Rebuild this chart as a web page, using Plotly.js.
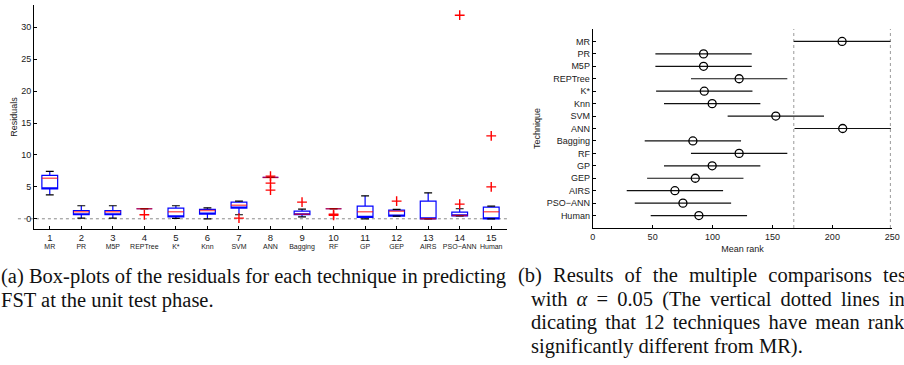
<!DOCTYPE html>
<html>
<head>
<meta charset="utf-8">
<script src="https://cdn.plot.ly/plotly-3.0.1.min.js"></script>
<style>
  html, body { margin: 0; padding: 0; background: #fff; overflow: hidden; }
  #chart { width: 904px; height: 365px; }
</style>
</head>
<body>
<div id="chart"></div>
<script>
// Techniques compared in both panels
const techniques = ['MR', 'PR', 'M5P', 'REPTree', 'K*', 'Knn', 'SVM', 'ANN', 'Bagging', 'RF', 'GP', 'GEP', 'AIRS', 'PSO\u2212ANN', 'Human'];
const techIndex = [1, 2, 3, 4, 5, 6, 7, 8, 9, 10, 11, 12, 13, 14, 15];

// (a) residual box statistics per technique
const whiskerLow  = [3.76, 0.10, 0.10, 1.57, 0.05, 0.00, 0.63, 6.48, 0.31, 1.57, 0.00, 0.42, 0.00, 0.47, 0.00];
const q1          = [4.70, 0.63, 0.63, 1.57, 0.31, 0.73, 1.67, 6.48, 0.63, 1.57, 0.21, 0.42, 0.00, 0.47, 0.00];
const median      = [6.37, 1.10, 1.10, 1.57, 1.10, 1.30, 2.14, 6.48, 0.73, 1.57, 1.10, 1.20, 0.00, 0.52, 1.10];
const q3          = [6.80, 1.30, 1.30, 1.57, 1.67, 1.46, 2.61, 6.48, 1.20, 1.57, 1.98, 1.36, 2.77, 1.04, 1.83];
const whiskerHigh = [7.42, 2.04, 2.04, 1.57, 2.04, 1.72, 2.77, 6.48, 1.52, 1.57, 3.60, 1.46, 4.07, 1.57, 1.98];

// (a) outliers: technique number and residual value
const outlierTech  = [4, 7, 8, 8, 8, 9, 10, 10, 12, 14, 14, 15, 15];
const outlierValue = [0.63, 0.10, 6.69, 5.59, 4.49, 2.61, 0.55, 0.70, 2.77, 2.30, 31.9, 13.0, 5.0];

// (b) multiple comparisons: mean rank and confidence half-width
const meanRank    = [208.1, 92.5, 92.5, 122.2, 93.1, 99.7, 152.8, 208.6, 83.6, 122.2, 99.7, 85.6, 68.6, 75.3, 88.6];
const ciHalfWidth = [40.3, 40.2, 40.2, 40.2, 40.2, 40.2, 40.2, 40.2, 40.2, 40.2, 40.2, 40.2, 40.2, 40.2, 40.2];

const sans = 'Liberation Sans, Arial, Helvetica, sans-serif';
const serif = 'Liberation Serif, Times New Roman, serif';
const ink = '#1a1a1a';

// A degenerate box (all stats equal) draws as a flat segment; used for caps and medians
function flatBox(values, width, color, lw) {
  return {
    type: 'box', x: techIndex, xaxis: 'x', yaxis: 'y',
    q1: values, median: values, q3: values, lowerfence: values, upperfence: values,
    width: width, whiskerwidth: 0, boxpoints: false,
    line: { color: color, width: lw }, fillcolor: 'rgba(0,0,0,0)',
    hoverinfo: 'skip', showlegend: false
  };
}

const traces = [
  {
    type: 'box', x: techIndex, xaxis: 'x', yaxis: 'y',
    q1: q1, median: q1, q3: q3, lowerfence: whiskerLow, upperfence: whiskerHigh,
    width: 0.5, whiskerwidth: 0, boxpoints: false,
    line: { color: '#0000ff', width: 1.2 }, fillcolor: 'rgba(0,0,0,0)',
    hoverinfo: 'skip', showlegend: false
  },
  flatBox(whiskerHigh, 0.25, '#000000', 1.2),
  flatBox(whiskerLow, 0.25, '#000000', 1.2),
  flatBox(median, 0.5, 'rgba(255,0,0,0.62)', 1.5),
  // outliers live on the overlaid axis that carries the technique names (same domain and range)
  {
    type: 'scatter', mode: 'markers', x: outlierTech, y: outlierValue, xaxis: 'x3', yaxis: 'y',
    marker: { symbol: 'cross-thin-open', size: 7, color: '#ff0000', line: { width: 1.4, color: '#ff1010' } },
    cliponaxis: false, hoverinfo: 'skip', showlegend: false
  },
  {
    type: 'scatter', mode: 'markers', x: meanRank, y: techniques, xaxis: 'x2', yaxis: 'y2',
    marker: { symbol: 'circle-open', size: 8, color: '#000', line: { width: 1.3, color: '#000' } },
    error_x: { type: 'data', array: ciHalfWidth, symmetric: true, width: 0, thickness: 1.2, color: '#111' },
    hoverinfo: 'skip', showlegend: false
  }
];

const W = 904, H = 365;
const px = v => v / W;
const py = v => 1 - v / H;

const mrLow = meanRank[0] - ciHalfWidth[0];
const mrHigh = meanRank[0] + ciHalfWidth[0];
const rankRange = [15, -1];
const boxDomain = [px(34), px(507)];
const boxRange = [0.5, 15.5];

function caption(text, x, yCenter) {
  return {
    xref: 'paper', yref: 'paper', x: px(x), y: py(yCenter),
    xanchor: 'left', yanchor: 'middle', showarrow: false, borderpad: 0,
    align: 'left', text: text, font: { family: serif, size: 20.5, color: '#111' }
  };
}

const layout = {
  width: W, height: H,
  margin: { l: 0, r: 0, t: 0, b: 0 },
  paper_bgcolor: '#fff', plot_bgcolor: 'rgba(0,0,0,0)',
  boxmode: 'overlay',
  showlegend: false,
  font: { family: sans, color: ink, size: 9 },
  xaxis: {
    domain: boxDomain, range: boxRange,
    tickmode: 'array', tickvals: techIndex, ticktext: techIndex.map(String),
    tickfont: { size: 9.5, family: sans, color: ink },
    ticks: 'inside', ticklen: 3, tickcolor: '#000',
    showline: true, linecolor: '#000', linewidth: 1, showgrid: false, zeroline: false,
    anchor: 'y'
  },
  // technique names printed under the tick numbers
  xaxis3: {
    domain: boxDomain, range: boxRange, overlaying: 'x', anchor: 'y', side: 'bottom',
    tickmode: 'array', tickvals: techIndex, ticktext: techniques,
    tickfont: { size: 7, family: sans, color: ink },
    ticks: '', showline: false, showgrid: false, zeroline: false,
    ticklabelstandoff: 12
  },
  yaxis: {
    domain: [py(229), py(5)], range: [-1.6, 33.5],
    tickvals: [0, 5, 10, 15, 20, 25, 30],
    tickfont: { size: 9, family: sans, color: ink },
    ticks: 'inside', ticklen: 3, tickcolor: '#000',
    showline: true, linecolor: '#000', linewidth: 1, showgrid: false, zeroline: false,
    title: { text: 'Residuals', font: { size: 9, family: sans, color: ink }, standoff: 2 },
    anchor: 'x'
  },
  xaxis2: {
    domain: [px(592.7), px(892.3)], range: [0, 250],
    tickvals: [0, 50, 100, 150, 200, 250],
    tickfont: { size: 9, family: sans, color: ink },
    ticks: 'inside', ticklen: 3, tickcolor: '#000',
    showline: true, linecolor: '#000', linewidth: 1, showgrid: false, zeroline: false,
    title: { text: 'Mean rank', font: { size: 9, family: sans, color: ink }, standoff: 4 },
    anchor: 'y2'
  },
  yaxis2: {
    domain: [py(228), py(29)], type: 'category', range: rankRange,
    categoryorder: 'array', categoryarray: techniques,
    tickfont: { size: 9, family: sans, color: ink },
    ticks: 'inside', ticklen: 3, tickcolor: '#000',
    showline: true, linecolor: '#000', linewidth: 1, showgrid: false, zeroline: false,
    title: { text: 'Technique', font: { size: 9, family: sans, color: ink }, standoff: 4 },
    anchor: 'x2'
  },
  shapes: [
    // zero reference for residuals
    { type: 'line', xref: 'x domain', yref: 'y', x0: -0.034, x1: 1.0, y0: 0, y1: 0,
      line: { color: '#8a8a8a', width: 1, dash: 'dot' }, layer: 'below' },
    // MR comparison interval bounds
    { type: 'line', xref: 'x2', yref: 'y2', x0: mrLow, x1: mrLow, y0: rankRange[0], y1: rankRange[1],
      line: { color: '#9a9a9a', width: 1, dash: 'dot' }, layer: 'below' },
    { type: 'line', xref: 'x2', yref: 'y2', x0: mrHigh, x1: mrHigh, y0: rankRange[0], y1: rankRange[1],
      line: { color: '#9a9a9a', width: 1, dash: 'dot' }, layer: 'below' }
  ],
  annotations: [
    caption('(a) Box-plots of the residuals for each technique in predicting', 0, 276),
    caption('FST at the unit test phase.', 0, 300),
    caption('<span style="word-spacing:6px">(b) Results of the multiple comparisons tes</span>', 517, 275.5),
    caption('<span style="word-spacing:4px">with <i>\u03b1</i> = 0.05 (The vertical dotted lines in</span>', 530, 299),
    caption('<span style="word-spacing:3px">dicating that 12 techniques have mean rank</span>', 530, 322.5),
    caption('significantly different from MR).', 530, 346)
  ]
};

Plotly.newPlot('chart', traces, layout, { staticPlot: true, displayModeBar: false });
</script>
</body>
</html>
